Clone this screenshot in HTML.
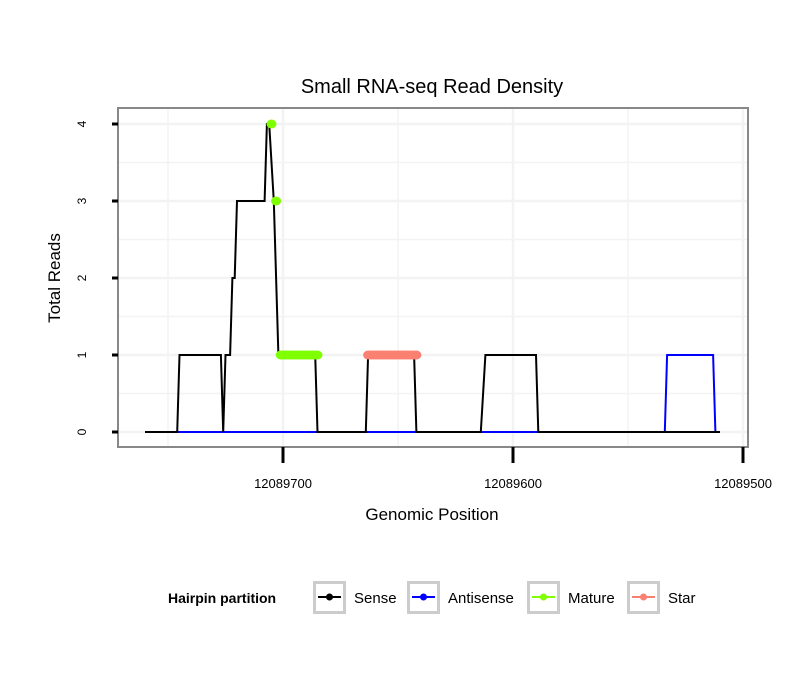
<!DOCTYPE html>
<html><head><meta charset="utf-8"><style>
body{margin:0;background:#fff;font-family:"Liberation Sans",sans-serif;}
</style></head><body>
<svg width="810" height="690" xmlns="http://www.w3.org/2000/svg" font-family="Liberation Sans, sans-serif">
<rect width="810" height="690" fill="#fff"/>
<text x="432" y="93" font-size="20" text-anchor="middle">Small RNA-seq Read Density</text>
<g id="grid"></g>
<g id="series"></g>
<rect x="118" y="108" width="630" height="339" fill="none" stroke="#888" stroke-width="2"/>
<g id="axes"></g>
<text x="432" y="520" font-size="17" text-anchor="middle">Genomic Position</text>
<text transform="translate(60,278) rotate(-90)" font-size="17" text-anchor="middle">Total Reads</text>
<g id="legend">
<text x="168" y="603" font-size="14" font-weight="bold">Hairpin partition</text>
</g>
</svg>
<script>
const xTicks=[12089700,12089600,12089500];
const yTicks=[0,1,2,3,4];
const sensePos=[12089760,12089746,12089745,12089727,12089726,12089725,12089723,12089722,12089721,12089720,12089708,12089707,12089706,12089704,12089702,12089686,12089685,12089664,12089663,12089643,12089642,12089614,12089612,12089590,12089589,12089510];
const senseVal=[0,0,1,1,0,1,1,2,2,3,3,4,4,3,1,1,0,0,1,1,0,0,1,1,0,0];
const antiPos=[12089760,12089534,12089533,12089513,12089512,12089510];
const antiVal=[0,0,1,1,0,0];
const maturePos=[12089705,12089703,12089701,12089700,12089699,12089698,12089697,12089696,12089695,12089694,12089693,12089692,12089691,12089690,12089689,12089688,12089687,12089686,12089685];
const matureVal=[4,3,1,1,1,1,1,1,1,1,1,1,1,1,1,1,1,1,1];
const starPos=[12089663,12089662,12089661,12089660,12089659,12089658,12089657,12089656,12089655,12089654,12089653,12089652,12089651,12089650,12089649,12089648,12089647,12089646,12089645,12089644,12089643,12089642];
const starVal=[1,1,1,1,1,1,1,1,1,1,1,1,1,1,1,1,1,1,1,1,1,1];
const NS="http://www.w3.org/2000/svg";
const xs=p=>283+(12089700-p)*2.3;
const ys=v=>432-v*77;
function mk(t,a,parent){const e=document.createElementNS(NS,t);for(const k in a)e.setAttribute(k,a[k]);parent.appendChild(e);return e;}
const grid=document.getElementById('grid'),series=document.getElementById('series'),axes=document.getElementById('axes'),legend=document.getElementById('legend');
for(let v=-0.5;v<=4.5;v+=0.5){const y=ys(v);if(y<109||y>446)continue;
const l=mk('line',{x1:119,x2:747,y1:y,y2:y,stroke:'#f3f3f3','stroke-width':v%1===0?2.5:1.5},grid);

}
for(let p=12089750;p>=12089500;p-=50){const x=xs(p);if(x<119||x>747)continue;
const l=mk('line',{x1:x,x2:x,y1:109,y2:446,stroke:'#f3f3f3','stroke-width':p%100===0?2.5:1.5},grid);

}
function line(P,V,color,name){const pts=P.map((p,i)=>xs(p)+','+ys(V[i])).join(' ');
const e=mk('polyline',{points:pts,fill:'none',stroke:color,'stroke-width':2},series);

}
function dots(P,V,color,name){P.forEach((p,i)=>{const c=mk('ellipse',{cx:xs(p),cy:ys(V[i]),rx:5,ry:4.5,fill:color},series);

});}
line(antiPos,antiVal,'#0000ff','antisense-line');
line(sensePos,senseVal,'#000','sense-line');
dots(maturePos,matureVal,'#7fff00','mature-point');
dots(starPos,starVal,'#fa8072','star-point');
yTicks.forEach(v=>{const y=ys(v);
const t=mk('line',{x1:112,x2:118,y1:y,y2:y,stroke:'#000','stroke-width':3},axes);


const tx=mk('text',{transform:`translate(86,${y}) rotate(-90)`,'font-size':12,'text-anchor':'middle'},axes);tx.textContent=v;

});
xTicks.forEach(p=>{const x=xs(p);
const t=mk('line',{x1:x,x2:x,y1:447,y2:463,stroke:'#000','stroke-width':3},axes);


const tx=mk('text',{x:x,y:488,'font-size':13,'text-anchor':'middle'},axes);tx.textContent=p;

});
const items=[['Sense','#000',313],['Antisense','#0000ff',407],['Mature','#7fff00',527],['Star','#fa8072',627]];
items.forEach(([n,c,x])=>{
const b=mk('rect',{x:x+1.5,y:582.5,width:30,height:30,fill:'#fff',stroke:'#ccc','stroke-width':3},legend);


mk('line',{x1:x+5,x2:x+28,y1:597,y2:597,stroke:c,'stroke-width':2},legend);
mk('circle',{cx:x+16.5,cy:597,r:3.5,fill:c},legend);
const t=mk('text',{x:x+41,y:603,'font-size':15},legend);t.textContent=n;

});
</script>
</body></html>
